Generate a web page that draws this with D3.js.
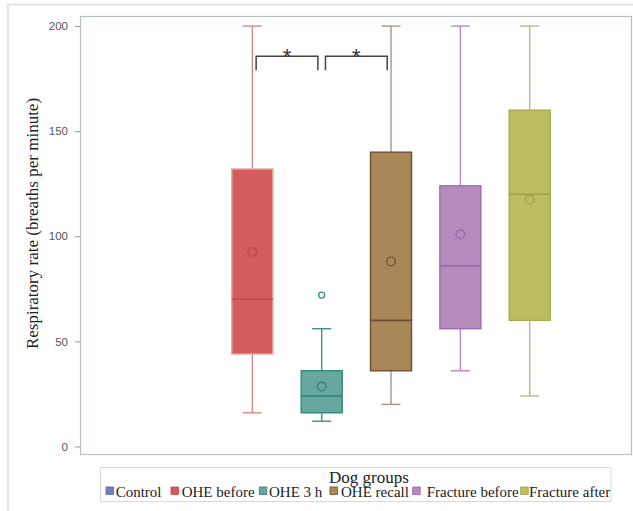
<!DOCTYPE html>
<html>
<head>
<meta charset="utf-8">
<script src="https://cdn.jsdelivr.net/npm/d3@7"></script>
<style>
  html, body { margin: 0; padding: 0; background: #fff; }
  svg { display: block; }
</style>
</head>
<body>
<svg id="chart" width="633" height="511"></svg>
<script>
// Respiratory rate by dog group — box-and-whisker summary
const groups = ["Control", "OHE before", "OHE 3 h", "OHE recall", "Fracture before", "Fracture after"];
const whiskerLow = [null, 16, 12, 20, 36, 24];
const q1 = [null, 44, 16, 36, 56, 60];
const median = [null, 70, 24, 60, 86, 120];
const q3 = [null, 132, 36, 140, 124, 160];
const whiskerHigh = [null, 200, 56, 200, 200, 200];
const means = [null, 92.5, 28.5, 88, 101, 117.5];
const outliers = [[], [], [72], [], [], []];
const yTicks = [0, 50, 100, 150, 200];
// pairs marked as significantly different
const sigPairs = [["OHE before", "OHE 3 h"], ["OHE 3 h", "OHE recall"]];
const sigLevel = [185.7, 179];

// colours per group: fill, outline, whisker
const fills = ["#6f7fc0", "#d35d5d", "#67a7a0", "#a98759", "#b58abd", "#bcbd5e"];
const edges = ["#5566aa", "#e3a3a3", "#2e8a80", "#6e4e2c", "#a06ab2", "#a7ad4e"];
const medianCol = ["#5566aa", "#b84c4c", "#2e7f76", "#6e4e2c", "#9c62ae", "#9ea048"];
const whiskerCol = ["#5566aa", "#d98888", "#3a9088", "#a69585", "#b787c8", "#b3bb83"];

const svg = d3.select("#chart");
const plot = { left: 80, right: 631, top: 16, bottom: 454 };

// outer frame
svg.append("rect")
  .attr("x", 8).attr("y", 4.5).attr("width", 700).attr("height", 600)
  .attr("fill", "none").attr("stroke", "#e4e4e4").attr("stroke-width", 2);

const x = d3.scalePoint().domain(groups).range([183, 529.7]);
const y = d3.scaleLinear().domain([-3.6, 204.8]).range([plot.bottom, plot.top]);

// plot frame
svg.append("rect")
  .attr("x", plot.left + 0.5).attr("y", plot.top + 0.5)
  .attr("width", plot.right - plot.left).attr("height", plot.bottom - plot.top)
  .attr("fill", "none").attr("stroke", "#b8c0c0").attr("stroke-width", 1.2);

// y axis
const yAxis = svg.append("g")
  .attr("transform", `translate(${plot.left},0)`)
  .call(d3.axisLeft(y).tickValues(yTicks).tickSize(5).tickPadding(7));
yAxis.select(".domain").remove();
yAxis.selectAll(".tick line").attr("stroke", "#9a9a9a");
yAxis.selectAll(".tick text")
  .attr("fill", "#555").attr("font-family", "'Liberation Sans', Arial, sans-serif")
  .attr("font-size", 11.5);

svg.append("text")
  .attr("transform", "translate(32,223.5) rotate(-90)")
  .attr("text-anchor", "middle").attr("dy", "0.35em")
  .attr("font-family", "'Liberation Serif', 'Times New Roman', serif")
  .attr("font-size", 17).attr("fill", "#222")
  .text("Respiratory rate (breaths per minute)");

// boxes
const boxW = 41, capW = 19;
const data = groups.map((g, i) => ({
  g, i, lo: whiskerLow[i], q1: q1[i], med: median[i], q3: q3[i], hi: whiskerHigh[i],
  mean: means[i], out: outliers[i]
})).filter(d => d.med !== null);

const bx = svg.append("g").selectAll("g").data(data).join("g");

// whiskers
bx.append("line")
  .attr("x1", d => x(d.g)).attr("x2", d => x(d.g))
  .attr("y1", d => y(d.q3)).attr("y2", d => y(d.hi))
  .attr("stroke", d => whiskerCol[d.i]).attr("stroke-width", 1.4);
bx.append("line")
  .attr("x1", d => x(d.g)).attr("x2", d => x(d.g))
  .attr("y1", d => y(d.q1)).attr("y2", d => y(d.lo))
  .attr("stroke", d => whiskerCol[d.i]).attr("stroke-width", 1.4);
bx.append("line")
  .attr("x1", d => x(d.g) - capW / 2).attr("x2", d => x(d.g) + capW / 2)
  .attr("y1", d => y(d.hi)).attr("y2", d => y(d.hi))
  .attr("stroke", d => whiskerCol[d.i]).attr("stroke-width", 1.4);
bx.append("line")
  .attr("x1", d => x(d.g) - capW / 2).attr("x2", d => x(d.g) + capW / 2)
  .attr("y1", d => y(d.lo)).attr("y2", d => y(d.lo))
  .attr("stroke", d => whiskerCol[d.i]).attr("stroke-width", 1.4);

// interquartile box
bx.append("rect")
  .attr("x", d => x(d.g) - boxW / 2).attr("width", boxW)
  .attr("y", d => y(d.q3)).attr("height", d => y(d.q1) - y(d.q3))
  .attr("fill", d => fills[d.i]).attr("stroke", d => edges[d.i]).attr("stroke-width", 1.4);

// median
bx.append("line")
  .attr("x1", d => x(d.g) - boxW / 2).attr("x2", d => x(d.g) + boxW / 2)
  .attr("y1", d => y(d.med)).attr("y2", d => y(d.med))
  .attr("stroke", d => medianCol[d.i]).attr("stroke-width", 1.6);

// mean marker
bx.append("circle")
  .attr("cx", d => x(d.g)).attr("cy", d => y(d.mean)).attr("r", 4.3)
  .attr("fill", "none").attr("stroke", d => medianCol[d.i]).attr("stroke-width", 1.3);

// outliers
bx.selectAll("circle.out").data(d => d.out.map(v => ({ v, g: d.g, i: d.i }))).join("circle")
  .attr("class", "out")
  .attr("cx", d => x(d.g)).attr("cy", d => y(d.v)).attr("r", 3)
  .attr("fill", "#fff").attr("stroke", d => whiskerCol[d.i]).attr("stroke-width", 1.4);

// significance brackets
const inset = 3.8;
sigPairs.forEach(([a, b]) => {
  const x1 = x(a) + inset, x2 = x(b) - inset;
  const yt = y(sigLevel[0]), yb = y(sigLevel[1]);
  svg.append("path")
    .attr("d", `M${x1},${yb}V${yt}H${x2}V${yb}`)
    .attr("fill", "none").attr("stroke", "#444").attr("stroke-width", 1.5);
  svg.append("text")
    .attr("x", (x1 + x2) / 2).attr("y", yt + 8)
    .attr("text-anchor", "middle")
    .attr("font-family", "'Liberation Sans', Arial, sans-serif")
    .attr("font-size", 22).attr("fill", "#333")
    .text("*");
});

// legend
const legend = svg.append("g");
legend.append("rect")
  .attr("x", 100.5).attr("y", 467.5).attr("width", 510.5).attr("height", 34)
  .attr("fill", "#fff").attr("stroke", "#d9d9d9").attr("stroke-width", 1);
legend.append("text")
  .attr("x", 369).attr("y", 482.5).attr("text-anchor", "middle")
  .attr("font-family", "'Liberation Serif', 'Times New Roman', serif")
  .attr("font-size", 17).attr("fill", "#222")
  .text("Dog groups");

const markerX = [106, 171, 259.3, 330, 412.7, 520.7];
const labelX = [115.7, 181.7, 269, 341, 426.7, 529];
const items = legend.selectAll("g.item").data(groups).join("g").attr("class", "item");
items.append("rect")
  .attr("x", (d, i) => markerX[i]).attr("y", 487).attr("width", 7.5).attr("height", 7.5)
  .attr("fill", (d, i) => fills[i]).attr("stroke", (d, i) => medianCol[i]).attr("stroke-width", 0.8);
items.append("text")
  .attr("x", (d, i) => labelX[i]).attr("y", 497)
  .attr("font-family", "'Liberation Serif', 'Times New Roman', serif")
  .attr("font-size", 15).attr("fill", "#222")
  .text(d => d);
</script>
</body>
</html>
